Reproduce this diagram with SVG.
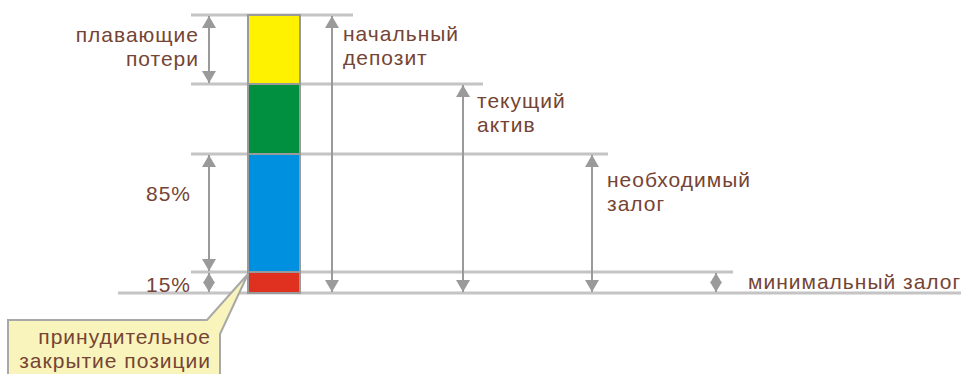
<svg xmlns="http://www.w3.org/2000/svg" width="961" height="374" viewBox="0 0 961 374">
<style>
.t{font-family:"Liberation Sans",Arial,sans-serif;font-size:21px;letter-spacing:1px;fill:#754434}
.r{text-anchor:end}
.h{stroke:#c4c4c4;stroke-width:3;fill:none}
.v{stroke:#9a9a9a;stroke-width:2;fill:none;marker-start:url(#ah);marker-end:url(#ah)}
.vs{stroke:#9a9a9a;stroke-width:2;fill:none;marker-start:url(#as);marker-end:url(#as)}
.seg{stroke:#9a9a9a;stroke-width:2}
</style>
<defs>
<marker id="ah" viewBox="0 0 10 10" refX="10" refY="5" markerWidth="12" markerHeight="14" markerUnits="userSpaceOnUse" orient="auto-start-reverse" preserveAspectRatio="none">
<path d="M0,0 L10,5 L0,10 Z" fill="#9a9a9a"/>
</marker>
<marker id="as" viewBox="0 0 10 10" refX="10" refY="5" markerWidth="10" markerHeight="12" markerUnits="userSpaceOnUse" orient="auto-start-reverse" preserveAspectRatio="none">
<path d="M0,0 L10,5 L0,10 Z" fill="#9a9a9a"/>
</marker>
</defs>
<g id="connectors">
<line class="h" x1="191" y1="15" x2="353" y2="15"/>
<line class="h" x1="191" y1="84" x2="483" y2="84"/>
<line class="h" x1="191" y1="154" x2="608" y2="154"/>
<line class="h" x1="191" y1="272" x2="733" y2="272"/>
<line class="h" x1="118" y1="293" x2="961" y2="293"/>
<line class="v" x1="209" y1="16" x2="209" y2="83"/>
<line class="v" x1="209" y1="155" x2="209" y2="271"/>
<line class="vs" x1="209" y1="273" x2="209" y2="292"/>
<line class="v" x1="332" y1="16" x2="332" y2="292"/>
<line class="v" x1="463" y1="85" x2="463" y2="292"/>
<line class="v" x1="592" y1="155" x2="592" y2="292"/>
<line class="vs" x1="716" y1="273" x2="716" y2="292"/>
</g>
<g id="bar">
<rect class="seg" x="248" y="15" width="52" height="69" fill="#fff200"/>
<rect class="seg" x="248" y="84" width="52" height="70" fill="#009040"/>
<rect class="seg" x="248" y="154" width="52" height="118" fill="#0090e0"/>
<rect class="seg" x="248" y="272" width="52" height="21" fill="#e03020"/>
</g>
<g id="floating-loss">
<text class="t r" x="199" y="42">плавающие</text>
<text class="t r" x="199" y="66">потери</text>
</g>
<g id="initial-deposit">
<text class="t" x="343" y="41">начальный</text>
<text class="t" x="343" y="65">депозит</text>
</g>
<g id="current-assets">
<text class="t" x="477" y="108">текущий</text>
<text class="t" x="477" y="132">актив</text>
</g>
<g id="required-margin">
<text class="t" x="607" y="187">необходимый</text>
<text class="t" x="607" y="211">залог</text>
</g>
<g id="min-margin">
<text class="t" x="748" y="289">минимальный залог</text>
</g>
<g id="pct85"><text class="t" x="146" y="201">85%</text></g>
<g id="pct15"><text class="t" x="146" y="292">15%</text></g>
<g id="callout">
<path d="M8,320 L207,320 L248,274 L220,334 L220,380 L8,380 Z" fill="#f9f4bc" stroke="#a8a8a8" stroke-width="2"/>
<text class="t r" x="211" y="344" letter-spacing="0.6">принудительное</text>
<text class="t r" x="211" y="368" letter-spacing="0.6">закрытие позиции</text>
</g>
</svg>
